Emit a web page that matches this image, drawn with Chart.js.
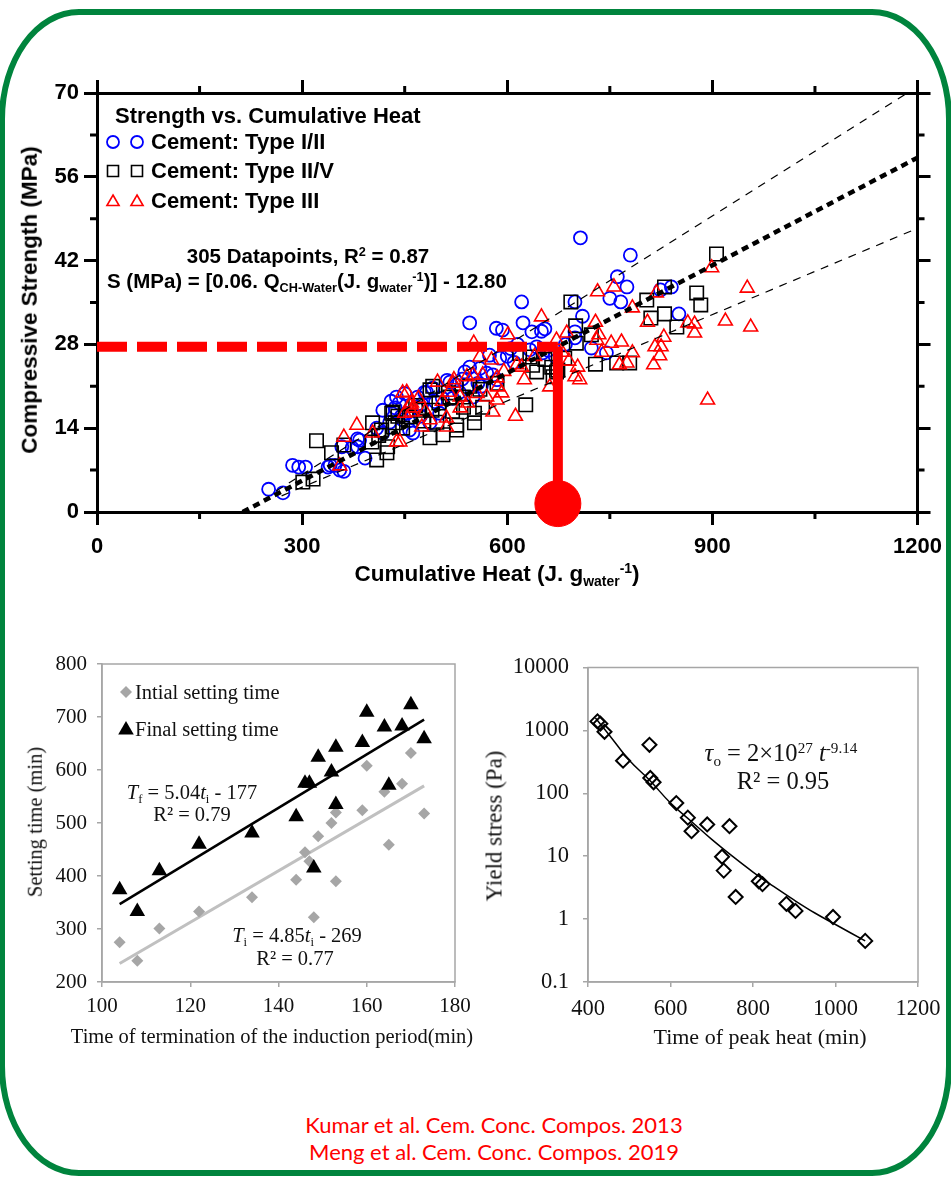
<!DOCTYPE html>
<html>
<head>
<meta charset="utf-8">
<script src="https://cdn.jsdelivr.net/npm/chart.js@4.4.1/dist/chart.umd.min.js"></script>
<style>
body { margin: 0; background: #fff; }
#page { position: relative; width: 951px; height: 1177px; overflow: hidden; background: #fff; }
canvas { position: absolute; }
.frame { position: absolute; left: -1px; top: 9px; width: 941px; height: 1155px; border: 6px solid #00843d; border-radius: 80px / 110px; }
.t { position: absolute; white-space: nowrap; line-height: 1; transform: translate(-50%, -50%); }
.l { transform: translate(0, -50%); }
.rot { transform: translate(-50%, -50%) rotate(-90deg); }
.b { font-family: 'Liberation Sans', Arial, sans-serif; font-weight: bold; color: #000; font-size: 22px; }
.s { font-family: 'Liberation Serif', 'Times New Roman', serif; color: #111; font-size: 20.5px; }
.ref { font-family: Lato, 'Open Sans', sans-serif; color: #f00; font-size: 22px; }
sub, sup { font-size: 0.62em; line-height: 0; position: relative; vertical-align: baseline; }
sub { top: 0.35em; }
sup { top: -0.55em; }
</style>
</head>
<body>
<div id="page">
  <div class="frame"></div>
  <canvas id="top" width="951" height="600" style="left:0;top:0"></canvas>
  <canvas id="setting" width="480" height="420" style="left:0;top:640px"></canvas>
  <canvas id="yield" width="471" height="420" style="left:480px;top:640px"></canvas>

  <!-- top chart texts -->
  <div class="t b rot" style="left:30px;top:300px;font-size:22.5px">Compressive Strength (MPa)</div>
  <div class="t b" style="left:497px;top:574px;font-size:22.5px">Cumulative Heat (J. g<sub>water</sub><sup>-1</sup>)</div>
  <div class="t b l" style="left:115px;top:116px">Strength vs. Cumulative Heat</div>
  <div class="t b l" style="left:151px;top:142px">Cement: Type I/II</div>
  <div class="t b l" style="left:151px;top:171px">Cement: Type II/V</div>
  <div class="t b l" style="left:151px;top:201px">Cement: Type III</div>
  <div class="t b" style="left:308px;top:256px;font-size:20.5px">305 Datapoints, R<sup>2</sup> = 0.87</div>
  <div class="t b l" style="left:107px;top:281px;font-size:20.5px">S (MPa) = [0.06. Q<sub>CH-Water</sub>(J. g<sub>water</sub><sup>-1</sup>)] - 12.80</div>

  <!-- setting time chart texts -->
  <div class="t s l" style="left:135px;top:692px">Intial setting time</div>
  <div class="t s l" style="left:135px;top:729px">Final setting time</div>
  <div class="t s" style="left:192px;top:792px"><i>T</i><sub>f</sub> = 5.04<i>t</i><sub>i</sub> - 177</div>
  <div class="t s" style="left:192px;top:814px">R² = 0.79</div>
  <div class="t s" style="left:297px;top:935px"><i>T</i><sub>i</sub> = 4.85<i>t</i><sub>i</sub> - 269</div>
  <div class="t s" style="left:295px;top:958px">R² = 0.77</div>
  <div class="t s rot" style="left:35px;top:822px">Setting time (min)</div>
  <div class="t s" style="left:272px;top:1036px">Time of termination of the induction period(min)</div>

  <!-- yield stress chart texts -->
  <div class="t s" style="left:781px;top:753px;font-size:24.5px"><i>τ</i><sub>o</sub> = 2×10<sup>27</sup> <i>t</i><sup>-9.14</sup></div>
  <div class="t s" style="left:783px;top:781px;font-size:24.5px">R² = 0.95</div>
  <div class="t s rot" style="left:494px;top:826px;font-size:23px">Yield stress (Pa)</div>
  <div class="t s" style="left:760px;top:1037px;font-size:22px">Time of peak heat (min)</div>

  <div class="t ref" style="left:494px;top:1125px">Kumar et al. Cem. Conc. Compos. 2013</div>
  <div class="t ref" style="left:494px;top:1152px">Meng et al. Cem. Conc. Compos. 2019</div>
</div>

<script>
// --- Strength vs cumulative heat (J/g water, MPa) ---
const type12Heat = [251,272,286,295,305,338,341,348,355,358,361,373,381,381,384,392,409,418,418,430,436,438,445,447,453,457,462,467,469,475,479,482,487,491,501,505,512,516,526,530,538,545,545,550,557,560,570,574,579,584,585,589,593,600,610,621,623,633,636,643,650,652,655,660,670,685,699,699,699,707,710,723,745,750,761,766,775,780,824,840,851,428,442,450,473,495,520,534,562,605,615];
const type12Strength = [3.8,3.2,7.8,7.5,7.5,7.5,7.8,7.8,7.0,10.9,6.8,10.7,12.2,10.9,12.0,9.0,14.0,13.2,17.0,18.5,17.4,19.2,16.0,15.4,16.5,13.7,13.2,17.5,19.2,18.0,20.0,20.0,14.9,20.7,16.5,19.0,22.0,21.7,21.2,20.0,23.4,24.2,31.6,19.2,21.5,24.0,23.2,26.2,22.9,30.7,22.1,25.7,30.4,26.0,25.0,35.1,31.6,27.1,30.1,27.6,30.2,26.6,30.6,27.0,26.0,28.0,35.1,30.1,29.1,45.8,32.7,27.4,26.6,35.7,39.3,35.1,37.6,42.9,37.1,37.6,33.1,15.0,18.2,19.8,16.0,18.4,19.0,22.2,21.0,27.3,28.0];

const type25Heat = [301,316,321,343,361,402,403,409,416,424,425,431,433,433,436,457,472,487,487,490,491,497,506,514,516,526,526,535,536,552,552,564,627,633,637,643,665,667,672,674,684,693,700,701,723,729,760,779,804,810,830,830,848,877,883,906,447,466,545,585,412,440,478,500,520,560,618,655];
const type25Strength = [5.0,5.5,11.9,9.9,11.2,11.7,14.9,8.7,13.7,9.9,10.9,16.5,14.2,16.7,14.9,15.9,17.0,12.4,20.4,17.0,21.0,15.0,12.9,19.9,19.2,14.5,13.7,19.2,17.5,16.5,14.9,17.5,17.9,25.9,24.5,23.4,24.2,22.6,23.4,23.7,25.7,35.1,31.1,28.2,29.6,24.7,24.9,24.9,35.4,32.4,37.6,33.1,30.9,36.6,34.6,43.1,14.0,17.8,21.0,21.5,12.8,16.0,15.2,18.2,16.8,20.5,26.5,25.5];

const type3Heat = [355,361,380,403,438,443,447,450,453,457,460,460,462,475,487,498,511,511,521,522,531,531,541,542,550,551,560,564,570,577,579,585,585,586,592,601,612,614,621,625,650,662,672,680,687,699,703,706,729,731,732,734,738,752,756,764,767,775,783,783,805,814,816,818,823,825,829,864,874,874,893,899,919,951,956,470,480,505,515,556,595,640,690];
const type3Strength = [7.7,12.5,14.5,13.2,11.7,11.7,19.9,16.5,20.0,17.9,16.7,18.2,17.4,14.2,15.4,21.7,15.7,14.2,21.5,22.1,17.4,19.2,22.6,18.2,22.9,28.2,25.9,22.9,19.2,25.4,16.7,22.4,18.7,20.9,19.9,29.6,16.0,24.6,24.2,22.1,32.6,20.9,28.7,26.7,29.9,22.6,24.2,22.1,31.7,28.7,36.8,29.6,26.7,28.2,37.6,24.6,28.4,24.9,34.1,26.6,31.7,24.6,27.6,36.6,26.1,27.6,29.2,31.6,29.9,31.4,18.7,40.8,31.9,37.4,30.9,19.0,16.8,18.5,20.0,19.8,23.5,26.0,25.2];

// fit line and +/- band, endpoints
const fitHeat = [213, 1200], fitStrength = [0, 59.2];
const upperHeat = [262, 1185], upperStrength = [3.5, 70];
const lowerHeat = [270, 1200], lowerStrength = [2.7, 47.4];
// red marker: 674 J/g -> 27.6 MPa
const markHeat = [0, 674, 674], markStrength = [27.6, 27.6, 0];
const dotHeat = 674, dotStrength = 1.4;

// --- Setting time vs induction period (min) ---
const inductionTime = [104,108,113,122,134,144,146,147,148,149,152,153,153,159,160,164,165,168,170,173];
const initialSetting = [275,240,301,333,360,393,445,428,322,475,500,390,520,524,608,559,459,574,632,518];
const finalSetting = [374,333,410,460,481,512,575,575,415,624,596,643,535,652,709,681,571,683,723,659];
const fitInduction = [104, 173];
const initialFit = [235, 570], finalFit = [347, 695];

// --- Yield stress vs time of peak heat ---
const peakTime = [423,430,440,485,549,551,559,614,642,651,689,743,725,729,758,814,823,881,903,994,1072];
const yieldStress = [1390,1280,950,330,590,175,150,70,41,25,32,30,9.8,5.9,2.25,4.0,3.6,1.75,1.35,1.08,0.45];
const curveTime = [418,450,500,550,600,650,700,750,800,850,900,950,1000,1072];
const curveStress = [1570,870,335,160,70,36,18.5,10,5.6,3.3,2.0,1.25,0.82,0.45];

const pts = (xs, ys) => xs.map((x, i) => ({ x, y: ys[i] }));
const fixW = w => s => { s.width = w; };
const fixH = h => s => { s.height = h; };
const plain = v => String(v);

const boldFont = { family: "'Liberation Sans', Arial, sans-serif", size: 22, weight: 'bold' };
const serifFont = { family: "'Liberation Serif', 'Times New Roman', serif", size: 21 };
const serifBig = { family: "'Liberation Serif', 'Times New Roman', serif", size: 22.5 };

function marker(ctx, kind, x, y, r, stroke, fill, lw) {
  ctx.save();
  ctx.beginPath();
  if (kind === 'circle') ctx.arc(x, y, r, 0, Math.PI * 2);
  if (kind === 'rect') ctx.rect(x - r, y - r, 2 * r, 2 * r);
  if (kind === 'triangle') {
    ctx.moveTo(x, y - r); ctx.lineTo(x + r * 0.866, y + r * 0.5); ctx.lineTo(x - r * 0.866, y + r * 0.5); ctx.closePath();
  }
  if (kind === 'diamond') {
    ctx.moveTo(x, y - r); ctx.lineTo(x + r, y); ctx.lineTo(x, y + r); ctx.lineTo(x - r, y); ctx.closePath();
  }
  if (fill) { ctx.fillStyle = fill; ctx.fill(); }
  if (stroke) { ctx.strokeStyle = stroke; ctx.lineWidth = lw; ctx.stroke(); }
  ctx.restore();
}

// minor ticks + legend symbols for the strength chart
const topExtras = {
  id: 'topExtras',
  afterDraw(chart) {
    const ctx = chart.ctx, a = chart.chartArea, sx = chart.scales.x, sy = chart.scales.y;
    ctx.save();
    ctx.strokeStyle = '#000';
    ctx.lineWidth = 3;
    ctx.beginPath();
    for (let v = 150; v < 1200; v += 300) {
      const px = sx.getPixelForValue(v);
      ctx.moveTo(px, a.bottom); ctx.lineTo(px, a.bottom + 7);
      ctx.moveTo(px, a.top); ctx.lineTo(px, a.top - 7);
    }
    for (let v = 7; v < 70; v += 14) {
      const py = sy.getPixelForValue(v);
      ctx.moveTo(a.left, py); ctx.lineTo(a.left - 7, py);
      ctx.moveTo(a.right, py); ctx.lineTo(a.right + 7, py);
    }
    ctx.stroke();
    ctx.restore();
    [113, 137].forEach(x => {
      marker(ctx, 'circle', x, 142, 6, '#0000ff', null, 1.8);
      marker(ctx, 'rect', x, 171, 5.5, '#000', null, 1.6);
      marker(ctx, 'triangle', x, 202, 7, '#ff0000', null, 1.6);
    });
  }
};

const frameBox = {
  id: 'frameBox',
  beforeDatasetsDraw(chart) {
    const ctx = chart.ctx, a = chart.chartArea;
    ctx.save();
    ctx.strokeStyle = '#a6a6a6';
    ctx.lineWidth = 1.5;
    ctx.strokeRect(a.left, a.top, a.right - a.left, a.bottom - a.top);
    ctx.restore();
  }
};

const settingLegend = {
  id: 'settingLegend',
  afterDraw(chart) {
    marker(chart.ctx, 'diamond', 126, 52, 6, null, '#a6a6a6', 0);
    marker(chart.ctx, 'triangle', 126, 90, 9, null, '#000', 0);
  }
};

const heavyAxis = (min, max, step, pos, show, size) => ({
  type: 'linear', position: pos, min, max,
  ticks: { stepSize: step, display: show, font: boldFont, color: '#000', padding: pos === 'left' ? 5 : 9, callback: plain },
  grid: { drawOnChartArea: false, color: '#000', lineWidth: 3, tickLength: 13 },
  border: { color: '#000', width: 3 },
  afterFit: (pos === 'left' || pos === 'right') ? fixW(size) : fixH(size)
});

new Chart(document.getElementById('top'), {
  type: 'scatter',
  data: {
    datasets: [
      { data: pts(markHeat.slice(0, 2), markStrength.slice(0, 2)), showLine: true, borderColor: '#ff0000', borderWidth: 10, borderDash: [30, 10], pointRadius: 0 },
      { data: pts(markHeat.slice(1), markStrength.slice(1)), showLine: true, borderColor: '#ff0000', borderWidth: 10, pointRadius: 0 },
      { data: [{ x: dotHeat, y: dotStrength }], pointRadius: 23, backgroundColor: '#ff0000', borderColor: '#ff0000', clip: false },
      { data: pts(fitHeat, fitStrength), showLine: true, borderColor: '#000', borderWidth: 4.5, borderDash: [7, 5], pointRadius: 0 },
      { data: pts(upperHeat, upperStrength), showLine: true, borderColor: '#000', borderWidth: 1.2, borderDash: [8, 7], pointRadius: 0 },
      { data: pts(lowerHeat, lowerStrength), showLine: true, borderColor: '#000', borderWidth: 1.2, borderDash: [8, 7], pointRadius: 0 },
      { data: pts(type3Heat, type3Strength), pointStyle: 'triangle', pointRadius: 8, borderColor: '#ff0000', backgroundColor: 'rgba(0,0,0,0)', borderWidth: 1.6 },
      { data: pts(type25Heat, type25Strength), pointStyle: 'rect', pointRadius: 9.5, borderColor: '#000', backgroundColor: 'rgba(0,0,0,0)', borderWidth: 1.6 },
      { data: pts(type12Heat, type12Strength), pointStyle: 'circle', pointRadius: 6.5, borderColor: '#0000ff', backgroundColor: 'rgba(0,0,0,0)', borderWidth: 1.8 }
    ]
  },
  options: {
    responsive: false, animation: false, devicePixelRatio: 1,
    layout: { padding: 0 },
    plugins: { legend: { display: false }, tooltip: { enabled: false } },
    scales: {
      x: heavyAxis(0, 1200, 300, 'bottom', true, 88),
      x2: heavyAxis(0, 1200, 300, 'top', false, 93),
      y: heavyAxis(0, 70, 14, 'left', true, 97),
      y2: heavyAxis(0, 70, 14, 'right', false, 33)
    }
  },
  plugins: [topExtras]
});

const lightAxis = (opts, size, vertical) => Object.assign({
  grid: { drawOnChartArea: false, color: '#a6a6a6', lineWidth: 1.5, tickLength: 5 },
  border: { color: '#a6a6a6', width: 1.5 },
  afterFit: vertical ? fixW(size) : fixH(size)
}, opts);

new Chart(document.getElementById('setting'), {
  type: 'scatter',
  data: {
    datasets: [
      { data: pts(inductionTime, finalSetting), pointStyle: 'triangle', pointRadius: 9, backgroundColor: '#000', borderColor: '#000', borderWidth: 0 },
      { data: pts(inductionTime, initialSetting), pointStyle: 'rectRot', pointRadius: 6, backgroundColor: '#a6a6a6', borderColor: '#a6a6a6', borderWidth: 0 },
      { data: pts(fitInduction, finalFit), showLine: true, borderColor: '#000', borderWidth: 2.5, pointRadius: 0 },
      { data: pts(fitInduction, initialFit), showLine: true, borderColor: '#c0c0c0', borderWidth: 3, pointRadius: 0 }
    ]
  },
  options: {
    responsive: false, animation: false, devicePixelRatio: 1,
    layout: { padding: { top: 24, right: 25, left: 0, bottom: 0 } },
    plugins: { legend: { display: false }, tooltip: { enabled: false } },
    scales: {
      x: lightAxis({ type: 'linear', min: 100, max: 180, ticks: { stepSize: 20, font: serifFont, color: '#111', padding: 7, callback: plain } }, 78, false),
      y: lightAxis({ type: 'linear', min: 200, max: 800, ticks: { stepSize: 100, font: serifFont, color: '#111', padding: 10, callback: plain } }, 102, true)
    }
  },
  plugins: [frameBox, settingLegend]
});

new Chart(document.getElementById('yield'), {
  type: 'scatter',
  data: {
    datasets: [
      { data: pts(peakTime, yieldStress), pointStyle: 'rectRot', pointRadius: 7, backgroundColor: 'rgba(0,0,0,0)', borderColor: '#000', borderWidth: 2 },
      { data: pts(curveTime, curveStress), showLine: true, borderColor: '#000', borderWidth: 1.5, pointRadius: 0, tension: 0.4 }
    ]
  },
  options: {
    responsive: false, animation: false, devicePixelRatio: 1,
    layout: { padding: { top: 25, right: 33, left: 0, bottom: 0 } },
    plugins: { legend: { display: false }, tooltip: { enabled: false } },
    scales: {
      x: lightAxis({ type: 'linear', min: 400, max: 1200, ticks: { stepSize: 200, font: serifBig, color: '#111', padding: 9, callback: plain } }, 78, false),
      y: lightAxis({
        type: 'logarithmic', min: 0.1, max: 10000,
        ticks: { font: serifBig, color: '#111', padding: 14, callback: plain },
        afterBuildTicks: s => { s.ticks = [0.1, 1, 10, 100, 1000, 10000].map(v => ({ value: v })); }
      }, 108, true)
    }
  },
  plugins: [frameBox]
});
</script>
</body>
</html>
